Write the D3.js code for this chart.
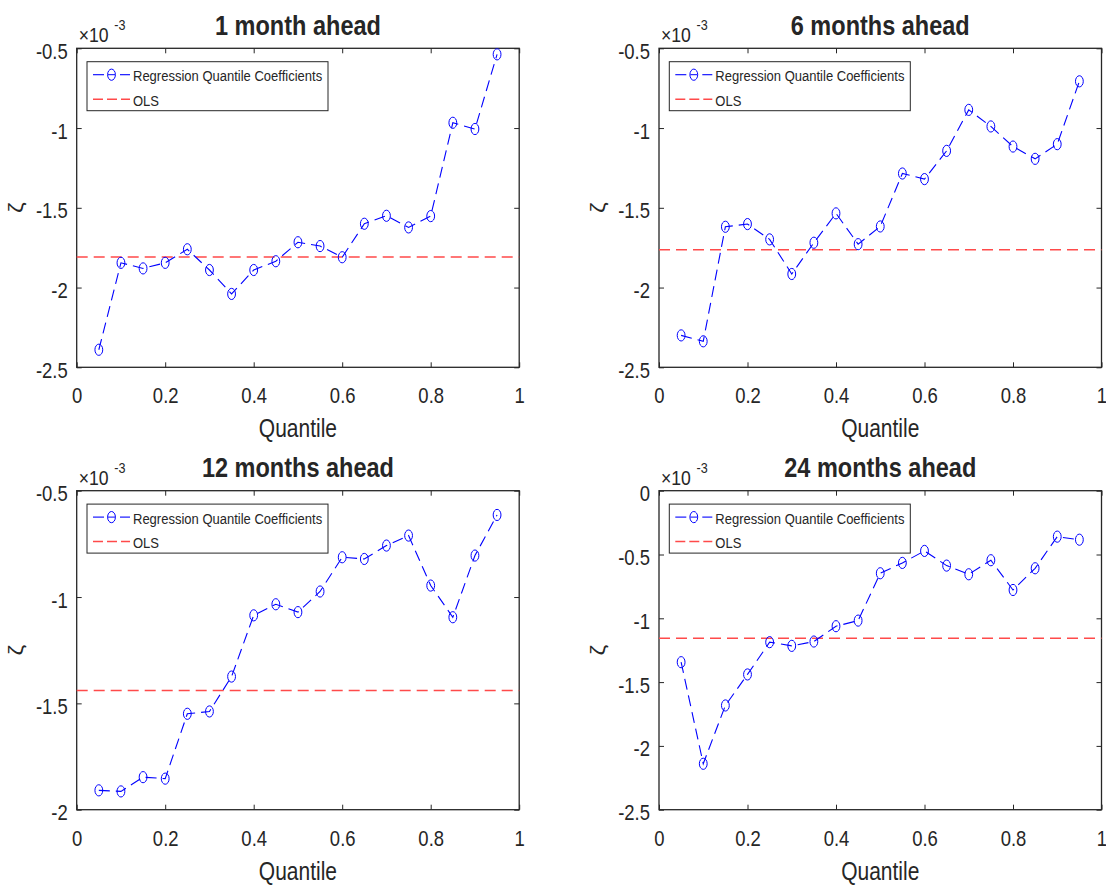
<!DOCTYPE html>
<html>
<head>
<meta charset="utf-8">
<script src="https://cdn.jsdelivr.net/npm/d3@7"></script>
<style>
  html, body { margin: 0; padding: 0; background: #ffffff; }
  svg { display: block; }
  text { font-family: "Liberation Sans", Arial, Helvetica, sans-serif; fill: #262626; }
</style>
</head>
<body>
<svg id="chart" width="1106" height="885"></svg>
<script>
// ---------------- data ----------------
const quantiles = [0.05, 0.10, 0.15, 0.20, 0.25, 0.30, 0.35, 0.40, 0.45, 0.50,
                   0.55, 0.60, 0.65, 0.70, 0.75, 0.80, 0.85, 0.90, 0.95];

const titles = ["1 month ahead", "6 months ahead", "12 months ahead", "24 months ahead"];

// regression quantile coefficients (units of 1e-3)
const coef1m  = [-2.39, -1.845, -1.88, -1.845, -1.76, -1.89, -2.04, -1.89, -1.835, -1.716,
                 -1.74, -1.81, -1.60, -1.55, -1.623, -1.552, -0.967, -1.006, -0.538];
const coef6m  = [-2.30, -2.337, -1.619, -1.602, -1.698, -1.915, -1.719, -1.535, -1.728, -1.617,
                 -1.285, -1.32, -1.143, -0.886, -0.99, -1.116, -1.193, -1.101, -0.707];
const coef12m = [-1.909, -1.914, -1.847, -1.854, -1.549, -1.538, -1.374, -1.086, -1.034, -1.071,
                 -0.974, -0.813, -0.821, -0.758, -0.711, -0.946, -1.095, -0.805, -0.614];
const coef24m = [-1.344, -2.14, -1.683, -1.44, -1.187, -1.216, -1.182, -1.062, -1.018, -0.647,
                 -0.566, -0.472, -0.587, -0.655, -0.545, -0.778, -0.608, -0.36, -0.384];

// OLS estimates (units of 1e-3)
const ols = [-1.808, -1.763, -1.439, -1.156];

// axis ranges and ticks
const yDomains = [[-2.5, -0.5], [-2.5, -0.5], [-2, -0.5], [-2.5, 0]];
const yTicks = [
  [-2.5, -2, -1.5, -1, -0.5],
  [-2.5, -2, -1.5, -1, -0.5],
  [-2, -1.5, -1, -0.5],
  [-2.5, -2, -1.5, -1, -0.5, 0]
];
const xTicks = [0, 0.2, 0.4, 0.6, 0.8, 1];
const xTickLabels = ["0", "0.2", "0.4", "0.6", "0.8", "1"];

const legendLabels = ["Regression Quantile Coefficients", "OLS"];
const xLabel = "Quantile";
const yLabel = "\u03B6";
const exponentBase = "\u00D710";
const exponentPower = "-3";

const seriesList = [coef1m, coef6m, coef12m, coef24m];

// ---------------- layout ----------------
const SX = 0.84;            // horizontal condensation of text
const panelLefts = [76.7, 659, 76.7, 659];
const panelTops = [48.3, 48.3, 490.7, 490.7];
const PW = 442.5, PH = 319;
const axisColor = "#262626";
const blue = "#0000ff";
const red = "#ff4a4a";
const dash = "11,6";

const svg = d3.select("#chart");

function fmt(v) {
  return String(v);
}

seriesList.forEach((series, i) => {
  const L = panelLefts[i], T = panelTops[i];
  const x = d3.scaleLinear().domain([0, 1]).range([0, PW]);
  const y = d3.scaleLinear().domain(yDomains[i]).range([PH, 0]);

  const g = svg.append("g").attr("transform", `translate(${L},${T})`);

  g.append("rect").attr("width", PW).attr("height", PH).attr("fill", "#fff");

  // axes (inward ticks)
  const bottom = g.append("g").attr("transform", `translate(0,${PH})`)
    .call(d3.axisBottom(x).tickValues(xTicks).tickSize(-5).tickSizeOuter(0)
      .tickFormat((d, k) => xTickLabels[k]));
  const left = g.append("g")
    .call(d3.axisLeft(y).tickValues(yTicks[i]).tickSize(-5).tickSizeOuter(0).tickFormat(fmt));
  const top = g.append("g")
    .call(d3.axisTop(x).tickValues(xTicks).tickSize(-5).tickSizeOuter(0).tickFormat(""));
  const right = g.append("g").attr("transform", `translate(${PW},0)`)
    .call(d3.axisRight(y).tickValues(yTicks[i]).tickSize(-5).tickSizeOuter(0).tickFormat(""));

  [bottom, left, top, right].forEach(a => {
    a.select(".domain").remove();
    a.selectAll(".tick line").attr("stroke", axisColor).attr("stroke-width", 1);
  });

  bottom.selectAll(".tick text")
    .attr("y", 36).attr("dy", null)
    .attr("font-size", 22).attr("fill", axisColor)
    .attr("transform", `scale(${SX},1)`)
    .style("font-family", '"Liberation Sans", Arial, sans-serif');

  left.selectAll(".tick text")
    .attr("x", -9 / SX).attr("dy", null).attr("y", 10)
    .attr("font-size", 22).attr("fill", axisColor)
    .attr("transform", `scale(${SX},1)`)
    .style("font-family", '"Liberation Sans", Arial, sans-serif');

  // frame
  g.append("rect").attr("width", PW).attr("height", PH)
    .attr("fill", "none").attr("stroke", axisColor).attr("stroke-width", 1.3);

  // OLS line
  g.append("line")
    .attr("x1", x(0)).attr("x2", x(1))
    .attr("y1", y(ols[i])).attr("y2", y(ols[i]))
    .attr("stroke", red).attr("stroke-width", 1.5).attr("stroke-dasharray", dash);

  // coefficient line
  const line = d3.line().x((d, k) => x(quantiles[k])).y(d => y(d));
  g.append("path").datum(series)
    .attr("d", line).attr("fill", "none")
    .attr("stroke", blue).attr("stroke-width", 1.1).attr("stroke-dasharray", dash);

  g.selectAll("ellipse.mk").data(series).join("ellipse")
    .attr("class", "mk")
    .attr("cx", (d, k) => x(quantiles[k])).attr("cy", d => y(d))
    .attr("rx", 3.9).attr("ry", 5.6)
    .attr("fill", "none").attr("stroke", blue).attr("stroke-width", 1);

  // title
  g.append("text")
    .attr("transform", `translate(${PW / 2},-13.5) scale(${SX},1)`)
    .attr("text-anchor", "middle").attr("font-size", 28).attr("font-weight", "bold")
    .attr("fill", "#000").text(titles[i]);

  // x label
  g.append("text")
    .attr("transform", `translate(${PW / 2},${PH + 70}) scale(${SX},1)`)
    .attr("text-anchor", "middle").attr("font-size", 25).attr("fill", axisColor)
    .text(xLabel);

  // y label
  g.append("text")
    .attr("transform", `translate(-54,${PH / 2}) rotate(-90) scale(1,${SX})`)
    .attr("text-anchor", "middle").attr("font-size", 24).attr("fill", axisColor)
    .text(yLabel);

  // exponent
  g.append("text")
    .attr("transform", `translate(2,-6) scale(${SX},1)`)
    .attr("font-size", 21).attr("fill", axisColor).text(exponentBase);
  g.append("text")
    .attr("transform", `translate(37.5,-18) scale(${SX},1)`)
    .attr("font-size", 15).attr("fill", axisColor).text(exponentPower);

  // legend
  const lg = g.append("g").attr("transform", "translate(10.3,13.4)");
  lg.append("rect").attr("width", 241).attr("height", 49)
    .attr("fill", "#fff").attr("stroke", axisColor).attr("stroke-width", 1);
  const rowsY = [13, 37.5];
  // row 1: dash - marker - dash
  [[6, 17], [33, 43]].forEach(seg => {
    lg.append("line").attr("x1", seg[0]).attr("x2", seg[1]).attr("y1", rowsY[0]).attr("y2", rowsY[0])
      .attr("stroke", blue).attr("stroke-width", 1.1);
  });
  lg.append("ellipse").attr("cx", 24.5).attr("cy", rowsY[0]).attr("rx", 3.9).attr("ry", 5.6)
    .attr("fill", "none").attr("stroke", blue).attr("stroke-width", 1);
  lg.append("line").attr("x1", 21).attr("x2", 28).attr("y1", rowsY[0]).attr("y2", rowsY[0])
    .attr("stroke", blue).attr("stroke-width", 1);
  // row 2
  lg.append("line").attr("x1", 6).attr("x2", 43).attr("y1", rowsY[1]).attr("y2", rowsY[1])
    .attr("stroke", red).attr("stroke-width", 1.5).attr("stroke-dasharray", "10,4");
  legendLabels.forEach((lab, k) => {
    lg.append("text")
      .attr("transform", `translate(46,${rowsY[k] + 6.5}) scale(${SX},1)`)
      .attr("font-size", 15.5).attr("fill", "#000").text(lab);
  });
});
</script>
</body>
</html>
